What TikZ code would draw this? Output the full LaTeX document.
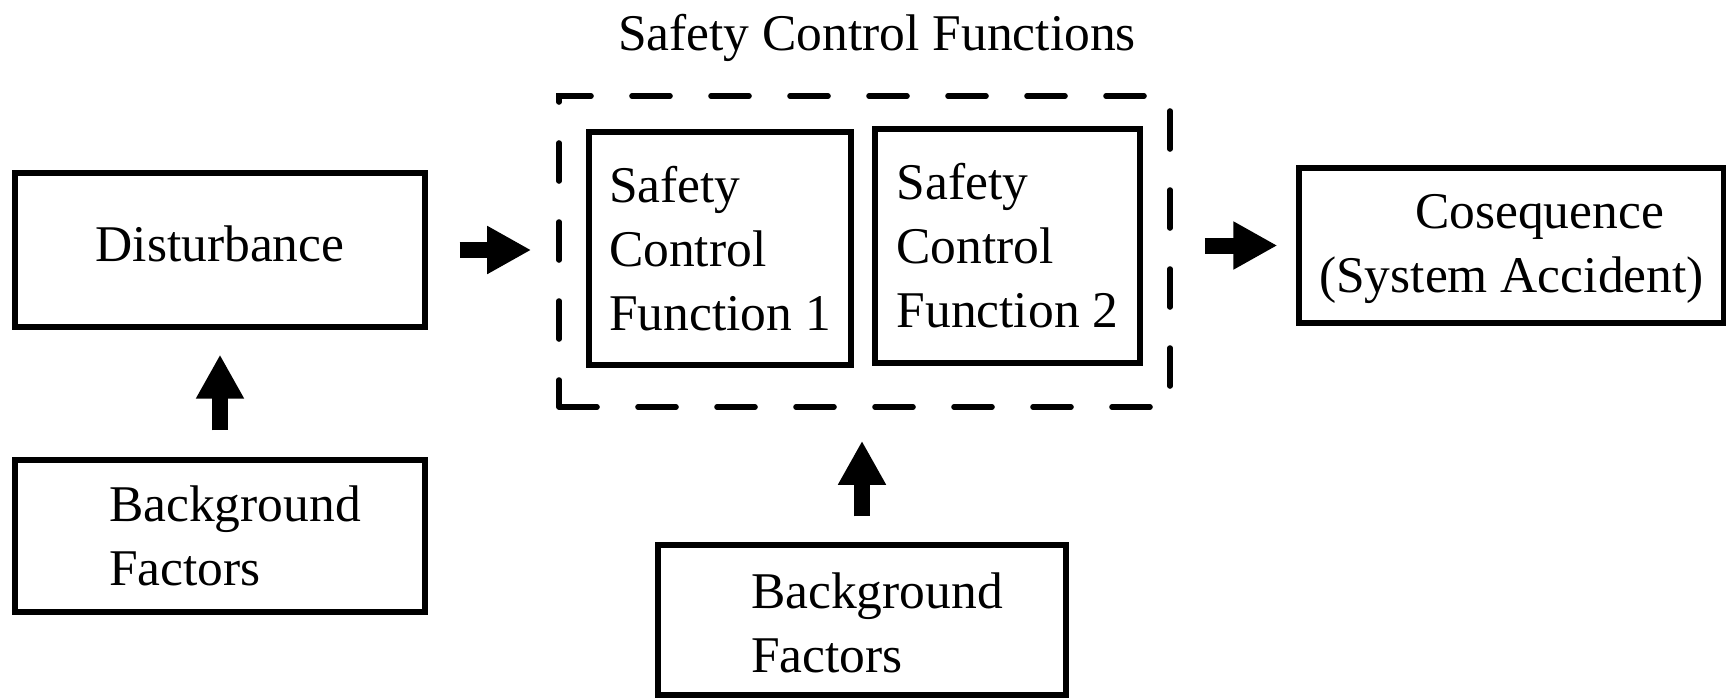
\documentclass[tikz,border=0pt]{standalone}
\usepackage{fontspec}
\setmainfont{Liberation Serif}
\usetikzlibrary{arrows.meta}
\newcommand\mystrutH[1]{\rule{0pt}{#1}}
\newcommand\mystrutD[1]{\rule[-#1]{0pt}{#1}}
\begin{document}
\begin{tikzpicture}[x=0.5pt,y=-0.5pt,
  txt/.style={font=\fontsize{25.75pt}{32pt}\selectfont},
  box/.style={txt,draw,line width=2.6pt,inner sep=0pt},
  dbox/.style={draw,line width=2.8pt,line cap=round,dash pattern=on 19pt off 20.5pt,inner sep=0pt},
  bigarrow/.style={line width=8pt,-{Triangle[length=22pt,width=22.5pt]}}]
\useasboundingbox (0,0) rectangle (1726,697);
\node[txt] (title) at (877,38) {Safety Control Functions};
\node[box,minimum width=205pt,minimum height=77pt] (dist) at (220,250) {\raisebox{3.3pt}[\height][\depth]{Disturbance}};
\node[dbox,minimum width=305.5pt,minimum height=155.5pt] (scf) at (864.5,251.5) {};
\node[box,align=left,minimum width=131pt,minimum height=116.5pt] (scf1) at (720,248.5) {Safety\\Control\\Function 1};
\node[box,align=left,minimum width=132.5pt,minimum height=117pt] (scf2) at (1007.5,246) {Safety\\Control\\Function 2};
\node[box,align=center,minimum width=212.5pt,minimum height=77.5pt] (cons) at (1511.5,245.5) {\mystrutH{23pt}\hspace*{28pt}Cosequence\\(System Accident)\mystrutD{7.6pt}};
\node[box,align=left,minimum width=205pt,minimum height=76pt] (bf1) at (220,536) {\hspace*{15pt}Background\\\hspace*{15pt}Factors};
\node[box,align=left,minimum width=204pt,minimum height=75pt] (bf2) at (862,620) {\mystrutH{26pt}\hspace*{15pt}Background\\\hspace*{15pt}Factors\mystrutD{5.4pt}};
\draw[bigarrow,shorten <=16pt,shorten >=12.5pt] (dist.east) -- (dist.east -| scf.west);
\draw[bigarrow,shorten <=16pt,shorten >=9.5pt] (cons.west -| scf.east) -- (cons.west);
\draw[bigarrow,shorten <=13.5pt,shorten >=12.5pt] (bf1.north) -- (dist.south);
\draw[bigarrow,shorten <=13pt,shorten >=15.5pt] (bf2.north) -- (bf2.north |- scf.south);
\end{tikzpicture}
\end{document}
